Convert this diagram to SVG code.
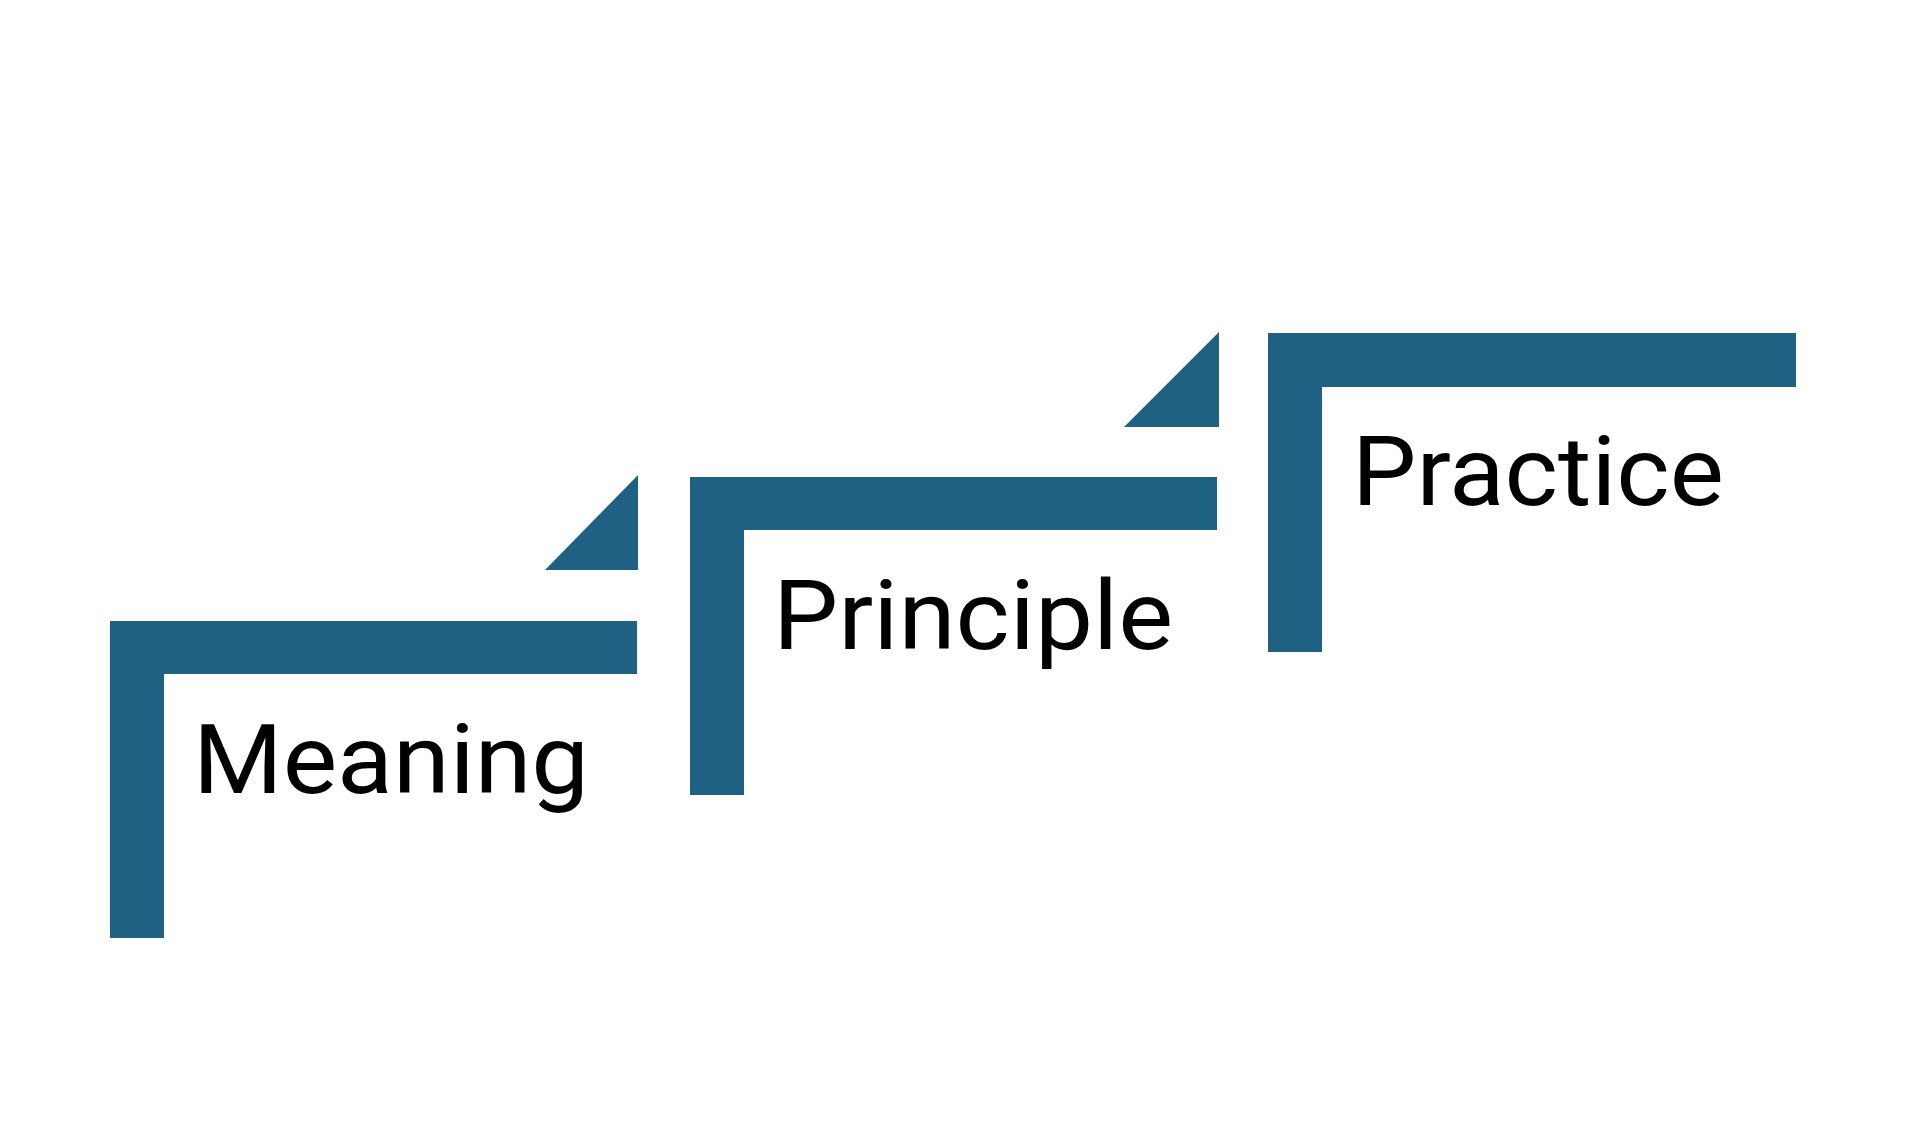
<svg xmlns="http://www.w3.org/2000/svg" width="1921" height="1127" viewBox="0 0 1921 1127">
  <style>
    .bar { fill: #1e6183; }
    .label { font-family: Roboto, "Liberation Sans", sans-serif; font-size: 97px; fill: #000000; }
  </style>
  <rect x="0" y="0" width="1921" height="1127" fill="#ffffff"/>
  <g id="step-meaning">
    <path class="bar" d="M110 621 H637 V674 H164 V938 H110 Z"/>
    <polygon class="bar" points="638,475 638,570 545,570"/>
    <text class="label" x="193" y="793" textLength="396" lengthAdjust="spacingAndGlyphs">Meaning</text>
  </g>
  <g id="step-principle">
    <path class="bar" d="M690 477 H1217 V530 H744 V795 H690 Z"/>
    <polygon class="bar" points="1219,332 1219,427 1124,427"/>
    <text class="label" x="773" y="649" textLength="400" lengthAdjust="spacingAndGlyphs">Principle</text>
  </g>
  <g id="step-practice">
    <path class="bar" d="M1268 333 H1796 V387 H1322 V652 H1268 Z"/>
    <text class="label" x="1352" y="505" textLength="372" lengthAdjust="spacingAndGlyphs">Practice</text>
  </g>
</svg>
